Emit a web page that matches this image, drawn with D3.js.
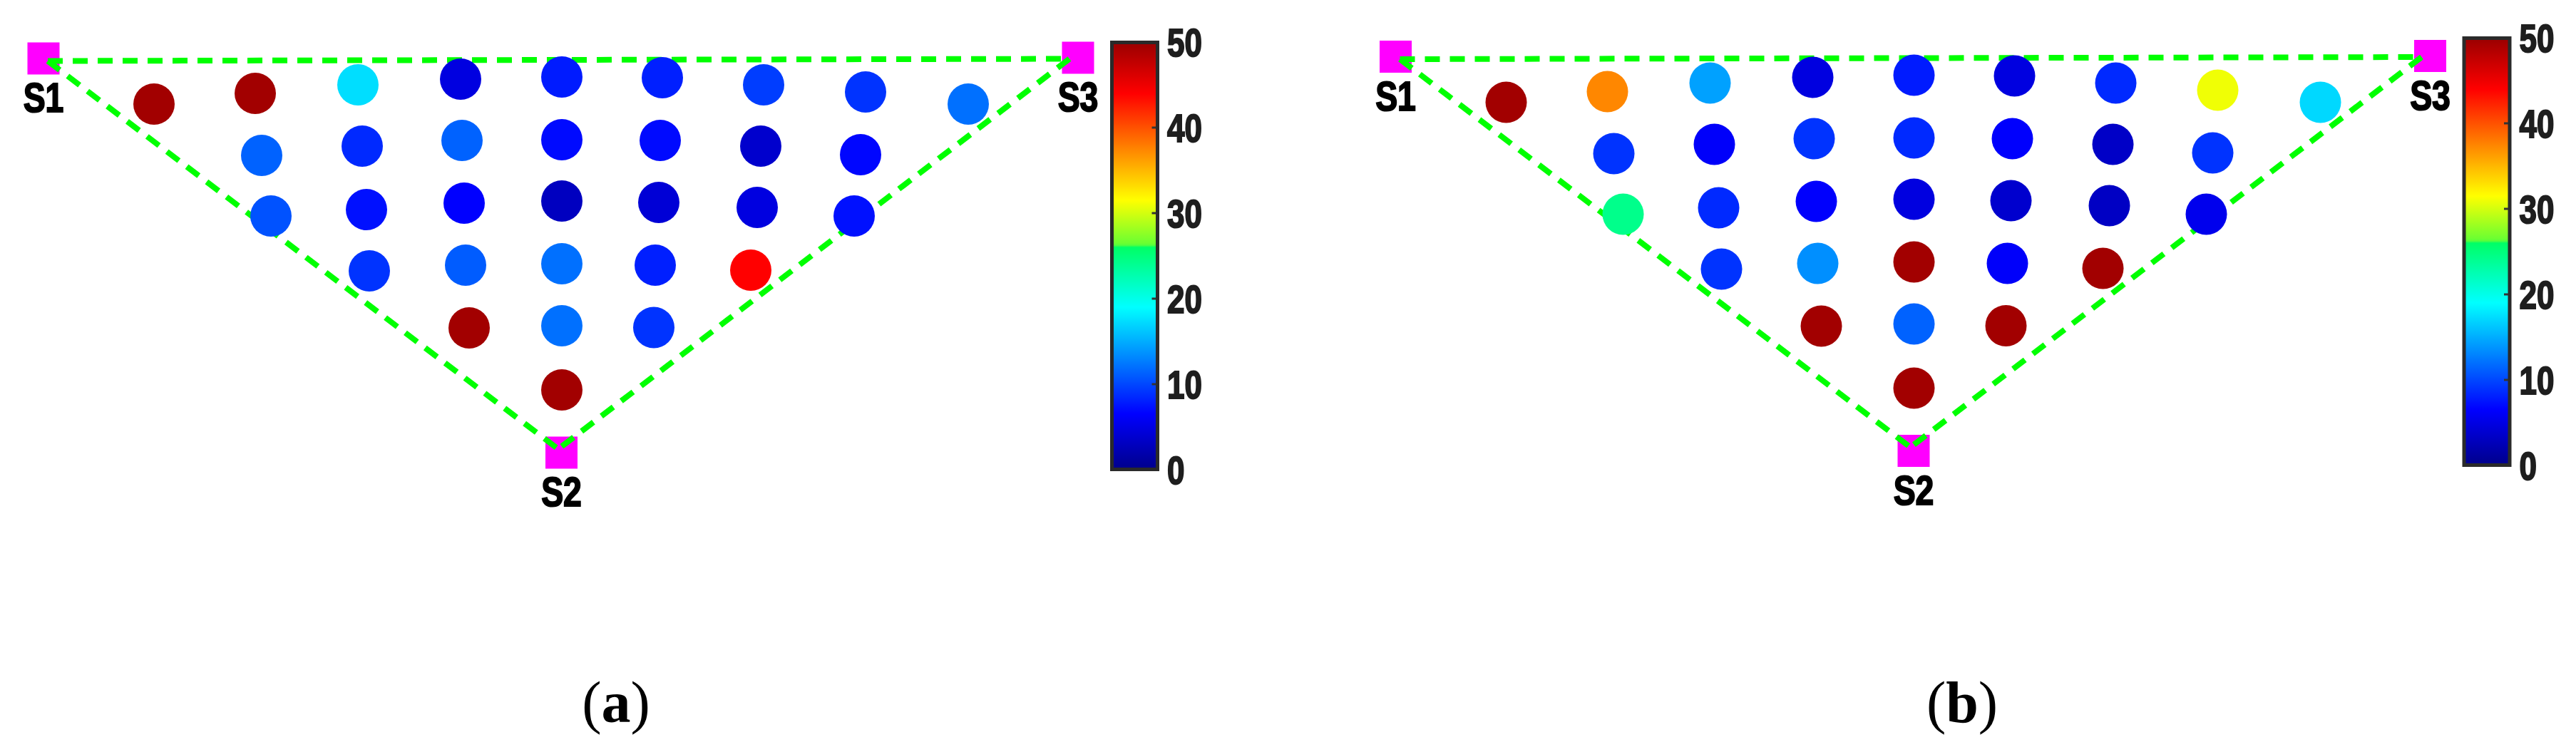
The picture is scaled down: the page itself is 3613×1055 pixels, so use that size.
<!DOCTYPE html>
<html>
<head>
<meta charset="utf-8">
<script src="https://cdn.jsdelivr.net/npm/d3@7"></script>
<style>
body { margin: 0; background: #fff; }
</style>
</head>
<body>
<div id="chart"></div>
<script>
// measurement points, cm from S1 (y grows towards S2)
var pointX = [15.5, 29.7, 44.1, 58.5, 72.7, 86.8, 101.0, 115.3, 129.7,
              30.6, 44.7, 58.7, 72.7, 86.5, 100.6, 114.6,
              31.9, 45.3, 59.0, 72.7, 86.3, 100.1, 113.7,
              45.7, 59.2, 72.7, 85.8, 99.2,
              59.7, 72.7, 85.6,
              72.7];
var pointY = [6.4, 4.9, 3.7, 2.9, 2.6, 2.7, 3.7, 4.7, 6.4,
              13.6, 12.3, 11.5, 11.4, 11.5, 12.3, 13.5,
              22.1, 21.2, 20.3, 20.0, 20.2, 20.9, 22.1,
              29.8, 29.0, 28.8, 29.0, 29.7,
              37.8, 37.5, 37.75,
              46.5];
var valuesA = [49.5, 49.5, 17.4, 4.8, 7.8, 8, 9.5, 9, 12,
               11.3, 8.5, 11.3, 7, 7, 3.7, 6.8,
               10.5, 7.3, 6.5, 3, 4.2, 4.8, 7.3,
               9, 11, 12, 8, 44,
               49.5, 12, 9,
               49.5];
var valuesB = [49.5, 37.4, 14.4, 4.8, 7.8, 4.8, 8.5, 31, 17.1,
               9, 6.2, 9, 8.5, 6.4, 3.4, 9,
               24.3, 8.5, 6.4, 4.8, 3.8, 3.2, 5.5,
               9, 13.5, 49.5, 6.2, 49.5,
               49.5, 11.3, 49.5,
               49.5];
var sensorNames = ["S1", "S2", "S3"];
var sensorX = [0, 72.65, 145.1];
var sensorY = [0, 55.3, -0.1];
// the dashed triangle starts a bit inside each sensor square
var lineX = [0.6, 72.2, 143.9];
var lineY = [0.35, 54.8, 0.05];
var cbTicks = [0, 10, 20, 30, 40, 50];
var panelLabels = ["a", "b"];

// jet-like colormap
var cmapStops = [0, 6.5, 19, 26, 26.3, 31.5, 44, 50];
var cmapColors = ["#00008a", "#0000ff", "#00ffff", "#00ff66", "#66ff33", "#ffff00", "#ff0000", "#9a0000"];

var W = 3613, H = 1055;
var svg = d3.select("#chart").append("svg")
    .attr("width", W)
    .attr("height", H);
svg.append("rect").attr("width", W).attr("height", H).attr("fill", "#fff");

var color = d3.scaleLinear().domain(cmapStops).range(cmapColors).clamp(true);

var grad = svg.append("defs").append("linearGradient")
    .attr("id", "jet")
    .attr("x1", 0).attr("y1", 1).attr("x2", 0).attr("y2", 0);
d3.range(0, 50.01, 0.25).forEach(function(v) {
    grad.append("stop").attr("offset", v / 50).attr("stop-color", color(v));
});

var panels = [
    {values: valuesA, dx: 0, dy: 0, cbTop: 57, capX: 864},
    {values: valuesB, dx: 1896.5, dy: -2.5, cbTop: 51, capX: 2752}
];

function drawPanel(p, k) {
    var g = svg.append("g");
    var x = d3.scaleLinear().domain([0, 145.1]).range([61 + p.dx, 1512 + p.dx]);
    var y = d3.scaleLinear().domain([0, 55.3]).range([82 + p.dy, 635 + p.dy]);
    var sq = 45;

    g.selectAll("rect.sensor").data(sensorNames).enter().append("rect")
        .attr("class", "sensor")
        .attr("x", function(d, i) { return x(sensorX[i]) - sq / 2; })
        .attr("y", function(d, i) { return y(sensorY[i]) - sq / 2; })
        .attr("width", sq)
        .attr("height", sq)
        .attr("fill", "#ff00ff");

    var edges = [[0, 2], [0, 1], [2, 1]];
    g.selectAll("line.edge").data(edges).enter().append("line")
        .attr("class", "edge")
        .attr("x1", function(d) { return x(lineX[d[0]]); })
        .attr("y1", function(d) { return y(lineY[d[0]]); })
        .attr("x2", function(d) { return x(lineX[d[1]]); })
        .attr("y2", function(d) { return y(lineY[d[1]]); })
        .attr("stroke", "#00ff00")
        .attr("stroke-width", 8)
        .attr("stroke-dasharray", "21,14");

    g.selectAll("circle").data(p.values).enter().append("circle")
        .attr("cx", function(d, i) { return x(pointX[i]); })
        .attr("cy", function(d, i) { return y(pointY[i]); })
        .attr("r", 29)
        .attr("fill", function(d) { return color(d); });

    g.selectAll("text.sensor").data(sensorNames).enter().append("text")
        .attr("class", "sensor")
        .attr("transform", function(d, i) {
            return "translate(" + x(sensorX[i]) + "," + (y(sensorY[i]) + 75) + ") scale(0.8,1)";
        })
        .attr("text-anchor", "middle")
        .attr("font-family", "'Liberation Sans', Arial, sans-serif")
        .attr("font-weight", "bold")
        .attr("font-size", 58)
        .attr("fill", "#000")
        .attr("stroke", "#000")
        .attr("stroke-width", 2)
        .text(function(d) { return d; });

    // colorbar
    var cbx = 1559.5 + p.dx;
    var cbw = 64;
    var cy = d3.scaleLinear().domain([0, 50]).range([p.cbTop + 602, p.cbTop + 2]);
    g.append("rect")
        .attr("x", cbx)
        .attr("y", p.cbTop + 2.5)
        .attr("width", cbw)
        .attr("height", 599)
        .attr("fill", "url(#jet)")
        .attr("stroke", "#2a2a2a")
        .attr("stroke-width", 5);
    g.selectAll("line.tick").data(cbTicks.slice(1, -1)).enter().append("line")
        .attr("class", "tick")
        .attr("x1", cbx + cbw - 8)
        .attr("x2", cbx + cbw - 2)
        .attr("y1", function(d) { return cy(d); })
        .attr("y2", function(d) { return cy(d); })
        .attr("stroke", "#333")
        .attr("stroke-width", 3);
    g.selectAll("text.cb").data(cbTicks).enter().append("text")
        .attr("class", "cb")
        .attr("transform", function(d) {
            return "translate(" + (cbx + cbw + 13.5) + "," + cy(d) + ") scale(0.8,1)";
        })
        .attr("dy", "0.36em")
        .attr("font-family", "'Liberation Sans', Arial, sans-serif")
        .attr("font-weight", "bold")
        .attr("font-size", 55)
        .attr("fill", "#1e1e1e")
        .attr("stroke", "#1e1e1e")
        .attr("stroke-width", 2)
        .text(function(d) { return d; });

    // caption
    var cap = svg.append("text")
        .attr("x", p.capX)
        .attr("y", 1013)
        .attr("text-anchor", "middle")
        .attr("font-family", "'Liberation Serif', 'Times New Roman', serif")
        .attr("font-size", 82)
        .attr("fill", "#000");
    cap.append("tspan").text("(");
    cap.append("tspan").attr("font-weight", "bold").text(panelLabels[k]);
    cap.append("tspan").text(")");
}

panels.forEach(drawPanel);
</script>
</body>
</html>
